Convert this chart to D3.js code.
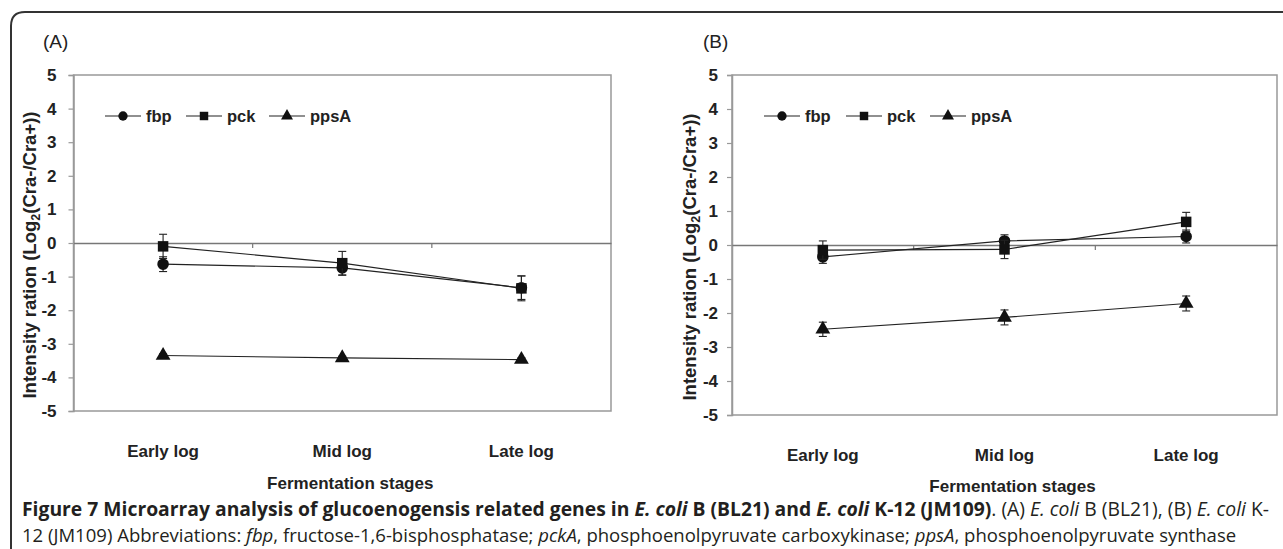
<!DOCTYPE html>
<html><head><meta charset="utf-8">
<script src="https://cdn.jsdelivr.net/npm/d3@7"></script>
<style>
html,body{margin:0;padding:0;background:#fff;}
svg{display:block;}
</style></head>
<body>
<svg id="chart" width="1283" height="549"></svg>
<script>
// ---------- data ----------
const stages = ["Early log", "Mid log", "Late log"];
const genes = ["fbp", "pck", "ppsA"];
const yTicks = [5, 4, 3, 2, 1, 0, -1, -2, -3, -4, -5];

// Panel A: E. coli B (BL21)
const fbpA = [-0.63, -0.74, -1.33];
const fbpAErr = [0.22, 0.22, 0.35];
const pckA = [-0.10, -0.60, -1.35];
const pckAErr = [0.36, 0.35, 0.37];
const ppsAA = [-3.35, -3.42, -3.47];
const ppsAAErr = [0.05, 0.05, 0.05];

// Panel B: E. coli K-12 (JM109)
const fbpB = [-0.35, 0.12, 0.25];
const fbpBErr = [0.19, 0.18, 0.19];
const pckB = [-0.15, -0.13, 0.68];
const pckBErr = [0.27, 0.27, 0.28];
const ppsAB = [-2.48, -2.13, -1.72];
const ppsABErr = [0.21, 0.22, 0.22];

const panels = [
  {label: "(A)", series: [[fbpA, fbpAErr], [pckA, pckAErr], [ppsAA, ppsAAErr]],
   x0: 73.5, x1: 611, y0: 75, y1: 411, labelX: 43, titleX: 30, pad: 12, legendX: [105, 186, 269], xlabY: 457, xtitleY: 489},
  {label: "(B)", series: [[fbpB, fbpBErr], [pckB, pckBErr], [ppsAB, ppsABErr]],
   x0: 732, x1: 1277, y0: 75, y1: 415, labelX: 703, titleX: 690, pad: 9, legendX: [764, 846, 930], xlabY: 461, xtitleY: 492}
];

const svg = d3.select("#chart");
const ink = "#222";
const axisGray = "#999";
const font = "'Liberation Sans', Arial, sans-serif";

// outer frame
svg.append("path")
  .attr("d", "M11,549 L11,26 Q11,12 25,12 L1283,12")
  .attr("fill", "none").attr("stroke", "#333").attr("stroke-width", 2);

const symbols = [d3.symbolCircle, d3.symbolSquare, d3.symbolTriangle];
const symSizes = [105, 110, 95];

panels.forEach(p => {
  const g = svg.append("g");
  const x = d3.scaleBand().domain(stages).range([p.x0, p.x1]);
  const y = d3.scaleLinear().domain([-5, 5]).range([p.y1, p.y0]);

  // panel label
  g.append("text").attr("x", p.labelX).attr("y", 48).text(p.label)
    .attr("font-family", font).attr("font-size", 19).attr("fill", ink);

  // plot border
  g.append("rect").attr("x", p.x0).attr("y", p.y0)
    .attr("width", p.x1 - p.x0).attr("height", p.y1 - p.y0)
    .attr("fill", "none").attr("stroke", axisGray).attr("stroke-width", 1.5);

  // y axis
  const yAxis = d3.axisLeft(y).tickValues(yTicks).tickSize(5).tickPadding(p.pad)
    .tickFormat(d3.format("d"));
  const ya = g.append("g").attr("transform", `translate(${p.x0},0)`).call(yAxis);
  ya.select(".domain").attr("stroke", axisGray).attr("stroke-width", 1.5);
  ya.selectAll(".tick line").attr("stroke", axisGray).attr("stroke-width", 1.2);
  ya.selectAll(".tick text").attr("font-family", font).attr("font-size", 17)
    .attr("font-weight", "bold").attr("fill", ink)
    .text(d => d === 0 ? "0" : (d < 0 ? "-" + Math.abs(d) : d));

  // zero line (category axis)
  const xAxis = d3.axisBottom(x).tickSize(0).tickFormat("");
  const xa = g.append("g").attr("transform", `translate(0,${y(0)})`).call(xAxis);
  xa.select(".domain").attr("stroke", "#777").attr("stroke-width", 1.3);
  const bounds = stages.slice(1).map(s => x(s));
  g.selectAll(".bt").data(bounds).join("line")
    .attr("x1", d => d).attr("x2", d => d)
    .attr("y1", y(0)).attr("y2", y(0) + 5)
    .attr("stroke", "#777").attr("stroke-width", 1.2);

  // category labels
  g.selectAll(".cl").data(stages).join("text")
    .attr("x", d => x(d) + x.bandwidth() / 2).attr("y", p.xlabY)
    .attr("text-anchor", "middle").attr("font-family", font)
    .attr("font-size", 17).attr("font-weight", "bold").attr("fill", ink).text(d => d);

  g.append("text").attr("x", (p.x0 + p.x1) / 2 + 8).attr("y", p.xtitleY)
    .attr("text-anchor", "middle").attr("font-family", font)
    .attr("font-size", 17).attr("font-weight", "bold").attr("fill", ink)
    .text("Fermentation stages");

  // y title
  const yt = g.append("text")
    .attr("transform", `translate(${p.titleX + 6},${(p.y0 + p.y1) / 2 + 12}) rotate(-90)`)
    .attr("text-anchor", "middle").attr("font-family", font)
    .attr("font-size", 18.5).attr("font-weight", "bold").attr("fill", ink);
  yt.append("tspan").text("Intensity ration (Log");
  yt.append("tspan").attr("font-size", 12.5).attr("dy", 4).text("2");
  yt.append("tspan").attr("dy", -4).text("(Cra-/Cra+))");

  // series
  const cx = d => x(d) + x.bandwidth() / 2;
  p.series.forEach(([vals, errs], si) => {
    const pts = stages.map((s, i) => ({s, v: vals[i], e: errs[i]}));
    g.append("path").datum(pts)
      .attr("d", d3.line().x(d => cx(d.s)).y(d => y(d.v)))
      .attr("fill", "none").attr("stroke", ink).attr("stroke-width", 1.1);
    const eg = g.append("g");
    pts.forEach(d => {
      const xc = cx(d.s);
      eg.append("line").attr("x1", xc).attr("x2", xc)
        .attr("y1", y(d.v - d.e)).attr("y2", y(d.v + d.e))
        .attr("stroke", ink).attr("stroke-width", 1.1);
      [d.v - d.e, d.v + d.e].forEach(v => {
        eg.append("line").attr("x1", xc - 4).attr("x2", xc + 4)
          .attr("y1", y(v)).attr("y2", y(v)).attr("stroke", ink).attr("stroke-width", 1.1);
      });
    });
    g.selectAll(null).data(pts).join("path")
      .attr("transform", d => `translate(${cx(d.s)},${y(d.v)})`)
      .attr("d", d3.symbol().type(symbols[si]).size(symSizes[si]))
      .attr("fill", "#111");
  });

  // legend
  const ly = 116;
  genes.forEach((gname, i) => {
    const lx = p.legendX[i];
    g.append("line").attr("x1", lx).attr("x2", lx + 36).attr("y1", ly).attr("y2", ly)
      .attr("stroke", ink).attr("stroke-width", 1.1);
    g.append("path").attr("transform", `translate(${lx + 18},${ly})`)
      .attr("d", d3.symbol().type(symbols[i]).size(symSizes[i] * 0.65)).attr("fill", "#111");
    g.append("text").attr("x", lx + 41).attr("y", ly + 6)
      .attr("font-family", font).attr("font-size", 16.5).attr("font-weight", "bold")
      .attr("fill", ink).text(gname);
  });
});

// caption
const cap = "'Open Sans', sans-serif";
const line1 = [
  ["Figure 7 Microarray analysis of glucoenogensis related genes in ", 700, "normal"],
  ["E. coli", 700, "italic"], [" B (BL21) and ", 700, "normal"],
  ["E. coli", 700, "italic"], [" K-12 (JM109)", 700, "normal"],
  [". (A) ", 400, "normal"], ["E. coli", 400, "italic"], [" B (BL21), (B) ", 400, "normal"],
  ["E. coli", 400, "italic"], [" K-", 400, "normal"]
];
const line2 = [
  ["12 (JM109) Abbreviations: ", 400, "normal"], ["fbp", 400, "italic"],
  [", fructose-1,6-bisphosphatase; ", 400, "normal"], ["pckA", 400, "italic"],
  [", phosphoenolpyruvate carboxykinase; ", 400, "normal"], ["ppsA", 400, "italic"],
  [", phosphoenolpyruvate synthase", 400, "normal"]
];
function capLine(parts, yy, targetW) {
  const t = svg.append("text").attr("x", 22).attr("y", yy)
    .attr("font-family", cap).attr("font-size", 17).attr("fill", "#231f20");
  parts.forEach(([s, w, st]) => t.append("tspan").attr("font-weight", w).attr("font-style", st).text(s));
  const w = t.node().getComputedTextLength();
  t.attr("font-size", 17 * targetW / w);
  return t;
}
capLine(line1, 516, 1248);
capLine(line2, 542, 1215);
</script>
</body></html>
